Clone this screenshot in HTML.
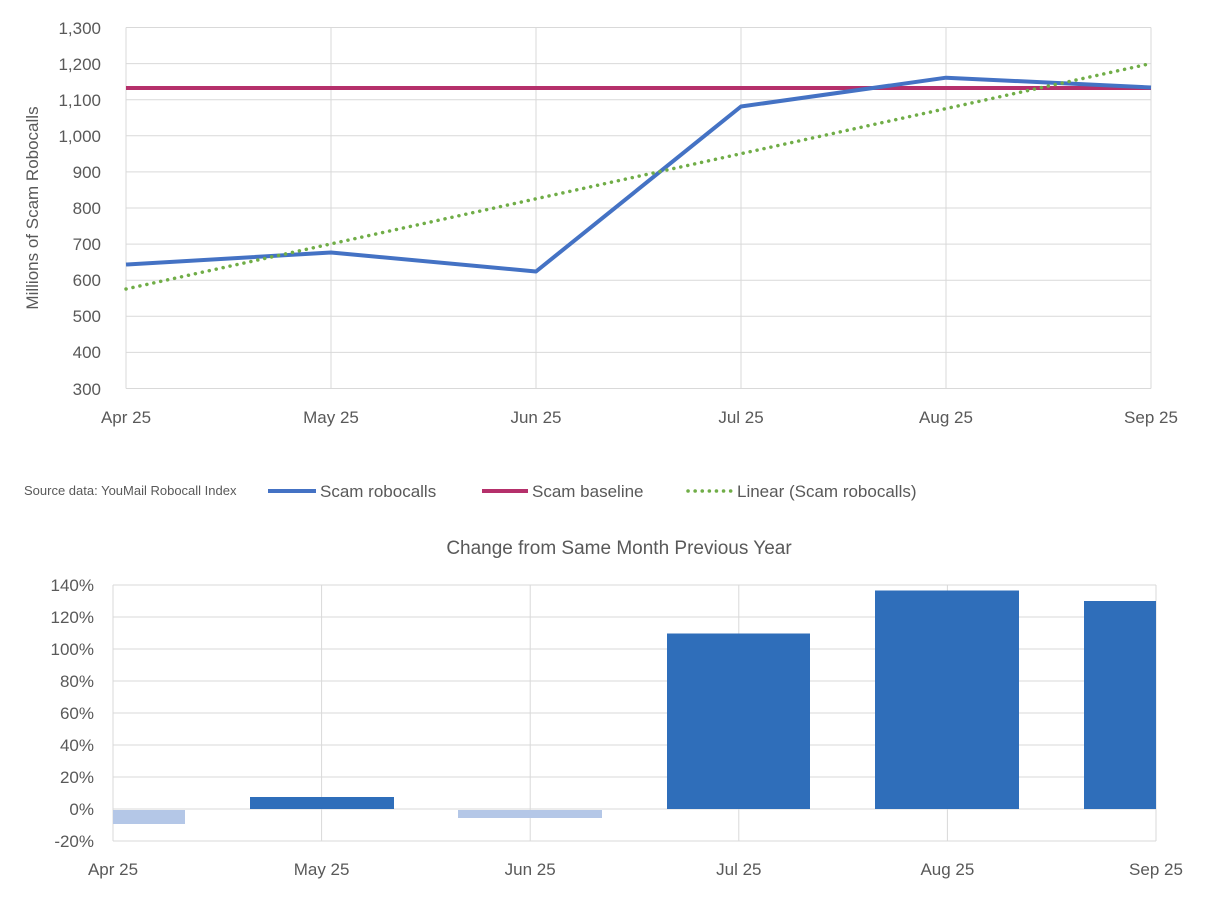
<!DOCTYPE html>
<html><head><style>
body{margin:0;background:#fff;font-family:"Liberation Sans",sans-serif;}
</style></head><body>
<svg width="1211" height="893" xmlns="http://www.w3.org/2000/svg" font-family="Liberation Sans, sans-serif" fill="#595959">
<!-- top chart gridlines -->
<g stroke="#d9d9d9" stroke-width="1">
<line x1="126" y1="27.5" x2="1151" y2="27.5"/><line x1="126" y1="63.6" x2="1151" y2="63.6"/>
<line x1="126" y1="99.7" x2="1151" y2="99.7"/><line x1="126" y1="135.8" x2="1151" y2="135.8"/>
<line x1="126" y1="171.9" x2="1151" y2="171.9"/><line x1="126" y1="208" x2="1151" y2="208"/>
<line x1="126" y1="244.1" x2="1151" y2="244.1"/><line x1="126" y1="280.2" x2="1151" y2="280.2"/>
<line x1="126" y1="316.3" x2="1151" y2="316.3"/><line x1="126" y1="352.4" x2="1151" y2="352.4"/>
<line x1="126" y1="388.5" x2="1151" y2="388.5"/>
<line x1="126" y1="27.5" x2="126" y2="388.5"/><line x1="331" y1="27.5" x2="331" y2="388.5"/>
<line x1="536" y1="27.5" x2="536" y2="388.5"/><line x1="741" y1="27.5" x2="741" y2="388.5"/>
<line x1="946" y1="27.5" x2="946" y2="388.5"/><line x1="1151" y1="27.5" x2="1151" y2="388.5"/>
</g>
<g font-size="17" text-anchor="end">
<text x="101" y="34">1,300</text><text x="101" y="70">1,200</text><text x="101" y="106">1,100</text>
<text x="101" y="142">1,000</text><text x="101" y="178">900</text><text x="101" y="214">800</text>
<text x="101" y="250">700</text><text x="101" y="286">600</text><text x="101" y="322">500</text>
<text x="101" y="358">400</text><text x="101" y="395">300</text>
</g>
<text transform="translate(38,208) rotate(-90)" font-size="17" text-anchor="middle">Millions of Scam Robocalls</text>
<g font-size="17" text-anchor="middle">
<text x="126" y="423">Apr 25</text><text x="331" y="423">May 25</text><text x="536" y="423">Jun 25</text>
<text x="741" y="423">Jul 25</text><text x="946" y="423">Aug 25</text><text x="1151" y="423">Sep 25</text>
</g>
<line x1="126" y1="88" x2="1151" y2="88" stroke="#b5306b" stroke-width="4"/>
<polyline points="126,264.5 331,252.5 536,271.5 741,106.5 946,77.7 1151,87.5" fill="none" stroke="#4472c4" stroke-width="4" stroke-linejoin="round"/>
<line x1="126" y1="289" x2="1151" y2="63.5" stroke="#70ad47" stroke-width="3.5" stroke-dasharray="0.1 7" stroke-linecap="round"/>
<!-- legend -->
<text x="24" y="495" font-size="13">Source data: YouMail Robocall Index</text>
<line x1="268" y1="491" x2="316" y2="491" stroke="#4472c4" stroke-width="4"/>
<text x="320" y="497" font-size="17">Scam robocalls</text>
<line x1="482" y1="491" x2="528" y2="491" stroke="#b5306b" stroke-width="4"/>
<text x="532" y="497" font-size="17">Scam baseline</text>
<line x1="688" y1="491" x2="732" y2="491" stroke="#70ad47" stroke-width="3.5" stroke-dasharray="0.1 7" stroke-linecap="round"/>
<text x="737" y="497" font-size="17">Linear (Scam robocalls)</text>
<!-- bottom chart -->
<text x="619" y="554" font-size="19" text-anchor="middle">Change from Same Month Previous Year</text>
<g stroke="#d9d9d9" stroke-width="1">
<line x1="113" y1="585" x2="1156" y2="585"/><line x1="113" y1="617" x2="1156" y2="617"/>
<line x1="113" y1="649" x2="1156" y2="649"/><line x1="113" y1="681" x2="1156" y2="681"/>
<line x1="113" y1="713" x2="1156" y2="713"/><line x1="113" y1="745" x2="1156" y2="745"/>
<line x1="113" y1="777" x2="1156" y2="777"/><line x1="113" y1="809" x2="1156" y2="809"/>
<line x1="113" y1="841" x2="1156" y2="841"/>
<line x1="113" y1="585" x2="113" y2="841"/><line x1="321.6" y1="585" x2="321.6" y2="841"/>
<line x1="530.2" y1="585" x2="530.2" y2="841"/><line x1="738.8" y1="585" x2="738.8" y2="841"/>
<line x1="947.4" y1="585" x2="947.4" y2="841"/><line x1="1156" y1="585" x2="1156" y2="841"/>
</g>
<g font-size="17" text-anchor="end">
<text x="94" y="591">140%</text><text x="94" y="623">120%</text><text x="94" y="655">100%</text>
<text x="94" y="687">80%</text><text x="94" y="719">60%</text><text x="94" y="751">40%</text>
<text x="94" y="783">20%</text><text x="94" y="815">0%</text><text x="94" y="847">-20%</text>
</g>
<rect x="113" y="810" width="72" height="14" fill="#b4c7e7"/>
<rect x="250" y="797" width="144" height="12" fill="#2f6eba"/>
<rect x="458" y="810" width="144" height="8" fill="#b4c7e7"/>
<rect x="667" y="633.5" width="143" height="175.5" fill="#2f6eba"/>
<rect x="875" y="590.5" width="144" height="218.5" fill="#2f6eba"/>
<rect x="1084" y="601" width="72" height="208" fill="#2f6eba"/>
<g font-size="17" text-anchor="middle">
<text x="113" y="875">Apr 25</text><text x="321.6" y="875">May 25</text><text x="530.2" y="875">Jun 25</text>
<text x="738.8" y="875">Jul 25</text><text x="947.4" y="875">Aug 25</text><text x="1156" y="875">Sep 25</text>
</g>
</svg>
</body></html>
